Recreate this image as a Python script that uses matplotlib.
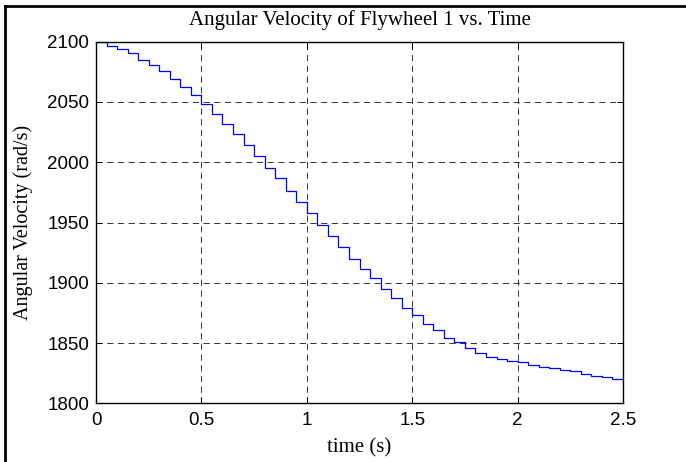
import numpy as np
import matplotlib
matplotlib.use("Agg")
import matplotlib.pyplot as plt
from matplotlib.lines import Line2D

# angular velocity held over each 0.05 s sample (rad/s)
step_dt = 0.05
omega = [2099.8, 2096.4, 2093.7, 2090.4, 2084.8, 2080.4, 2075.4, 2068.8, 2062.4, 2056.0,
         2048.3, 2039.8, 2032.0, 2023.2, 2014.3, 2005.4, 1995.5, 1986.7, 1976.1, 1967.3,
         1957.6, 1947.9, 1938.8, 1929.9, 1919.7, 1911.2, 1903.7, 1894.8, 1887.1, 1879.3,
         1873.3, 1865.8, 1860.8, 1854.2, 1850.6, 1845.6, 1841.7, 1838.7, 1836.5, 1835.1,
         1834.0, 1831.5, 1830.4, 1829.1, 1827.6, 1826.8, 1824.3, 1822.6, 1821.6, 1820.2]
xticks = [0, 0.5, 1, 1.5, 2, 2.5]
yticks = [1800, 1850, 1900, 1950, 2000, 2050, 2100]

t = np.arange(len(omega) + 1) * step_dt
w = omega + [omega[-1]]

plt.rcParams["lines.scale_dashes"] = False

fig = plt.figure(figsize=(6.86, 4.62), dpi=100)
ax = fig.add_axes([96 / 686, 1 - 403.3 / 462, (623 - 96) / 686, (403.3 - 41.7) / 462])

ax.step(t, w, where="post", color="#0000ff", linewidth=0.9)

ax.set_xlim(0, 2.5)
ax.set_ylim(1800, 2100)
ax.set_xticks(xticks)
ax.set_xticklabels(["0", "0.5", "1", "1.5", "2", "2.5"])
ax.set_yticks(yticks)
ax.grid(True, color="#333333", linestyle=(0, (4.5, 3.2)), linewidth=0.7)
ax.tick_params(direction="in", length=4, width=0.7, top=True, right=True,
               labelsize=13.5, pad=6)
ax.tick_params(axis="y", pad=5)
for lab in ax.get_xticklabels() + ax.get_yticklabels():
    lab.set_family("Liberation Sans")
for s in ax.spines.values():
    s.set_linewidth(1.0)

ax.set_title("Angular Velocity of Flywheel 1 vs. Time", family="Liberation Serif",
             fontsize=15, pad=12)
ax.set_xlabel("time (s)", family="Liberation Serif", fontsize=15, labelpad=7)
ax.set_ylabel("Angular Velocity (rad/s)", family="Liberation Serif", fontsize=14.5, labelpad=10)

# frame lines at the top and left of the picture
fig.add_artist(Line2D([5 / 686, 1], [1 - 5.5 / 462, 1 - 5.5 / 462], color="black",
                      linewidth=2, transform=fig.transFigure))
fig.add_artist(Line2D([5 / 686, 5 / 686], [0, 1 - 5.5 / 462], color="black",
                      linewidth=2, transform=fig.transFigure))

fig.savefig("out.png", dpi=100)
